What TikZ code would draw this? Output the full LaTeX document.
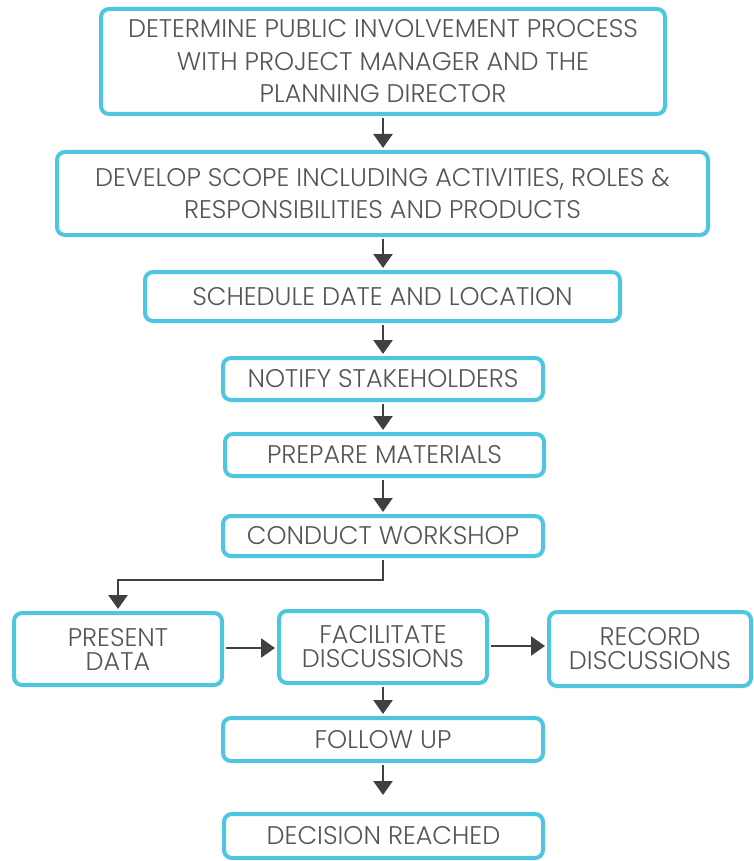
\documentclass[tikz,border=0pt]{standalone}
\usepackage{fontspec}
\setmainfont{Poppins}[UprightFont={* Light}]
\usetikzlibrary{arrows.meta,positioning}
\definecolor{boxblue}{HTML}{4FC6E0}
\definecolor{inkgray}{HTML}{404040}
\definecolor{txtgray}{HTML}{555555}
\tikzset{
  stepbox/.style={draw=boxblue,line width=4pt,rounded corners=8pt,align=center,
    text=txtgray,font=\fontsize{25.5}{32.5}\selectfont,inner sep=0pt},
  tight/.style={font=\fontsize{25.5}{24}\selectfont},
  flow/.style={draw=inkgray,line width=2.5pt,shorten <=2pt,shorten >=2pt,
    -{Triangle[width=19pt,length=14pt]}}
}

\begin{document}
\begin{tikzpicture}[x=1pt,y=-1pt]
  \useasboundingbox (0,0) rectangle (754,861);
  % main column
  \node[stepbox,minimum width=564pt,minimum height=105pt] (determine) at (383,61.5)
    {DETERMINE PUBLIC INVOLVEMENT PROCESS\\WITH PROJECT MANAGER AND THE\\PLANNING DIRECTOR};
  \node[stepbox,minimum width=651pt,minimum height=83pt] (scope) at (382.5,193.5)
    {DEVELOP SCOPE INCLUDING ACTIVITIES, ROLES \&\\RESPONSIBILITIES AND PRODUCTS};
  \node[stepbox,minimum width=475pt,minimum height=49pt] (schedule) at (382.5,296.5)
    {SCHEDULE DATE AND LOCATION};
  \node[stepbox,minimum width=320pt,minimum height=42pt] (notify) at (383,379)
    {NOTIFY STAKEHOLDERS};
  \node[stepbox,minimum width=319pt,minimum height=42pt] (prepare) at (384.5,455)
    {PREPARE MATERIALS};
  \node[stepbox,minimum width=320pt,minimum height=40pt] (conduct) at (383,536)
    {CONDUCT WORKSHOP};
  % workshop row
  \node[stepbox,tight,minimum width=208pt,minimum height=72pt] (present) at (118,649)
    {PRESENT\\DATA};
  \node[stepbox,tight,minimum width=208pt,minimum height=72pt] (facilitate) at (383,647)
    {FACILITATE\\DISCUSSIONS};
  \node[stepbox,tight,minimum width=202pt,minimum height=74pt] (record) at (650,649)
    {RECORD\\DISCUSSIONS};
  % closing steps
  \node[stepbox,minimum width=320pt,minimum height=43pt] (follow) at (383,739.5)
    {FOLLOW UP};
  \node[stepbox,minimum width=319pt,minimum height=44pt] (decision) at (383.5,836)
    {DECISION REACHED};

  \draw[flow] (determine.south) -- (determine.south |- scope.north);
  \draw[flow] (determine.south |- scope.south) -- (determine.south |- schedule.north);
  \draw[flow] (determine.south |- schedule.south) -- (determine.south |- notify.north);
  \draw[flow] (notify.south) -- (notify.south |- prepare.north);
  \draw[flow] (notify.south |- prepare.south) -- (notify.south |- conduct.north);
  \draw[flow] (conduct.south) -- ++(0,22) -| (present.north);
  \draw[flow] (present.east |- 0,648) -- (facilitate.west |- 0,648);
  \draw[flow] (facilitate.east |- 0,646) -- (record.west |- 0,646);
  \draw[flow] (facilitate.south) -- (follow.north);
  \draw[flow,shorten >=17pt] (follow.south) -- (follow.south |- decision.north);
\end{tikzpicture}
\end{document}
